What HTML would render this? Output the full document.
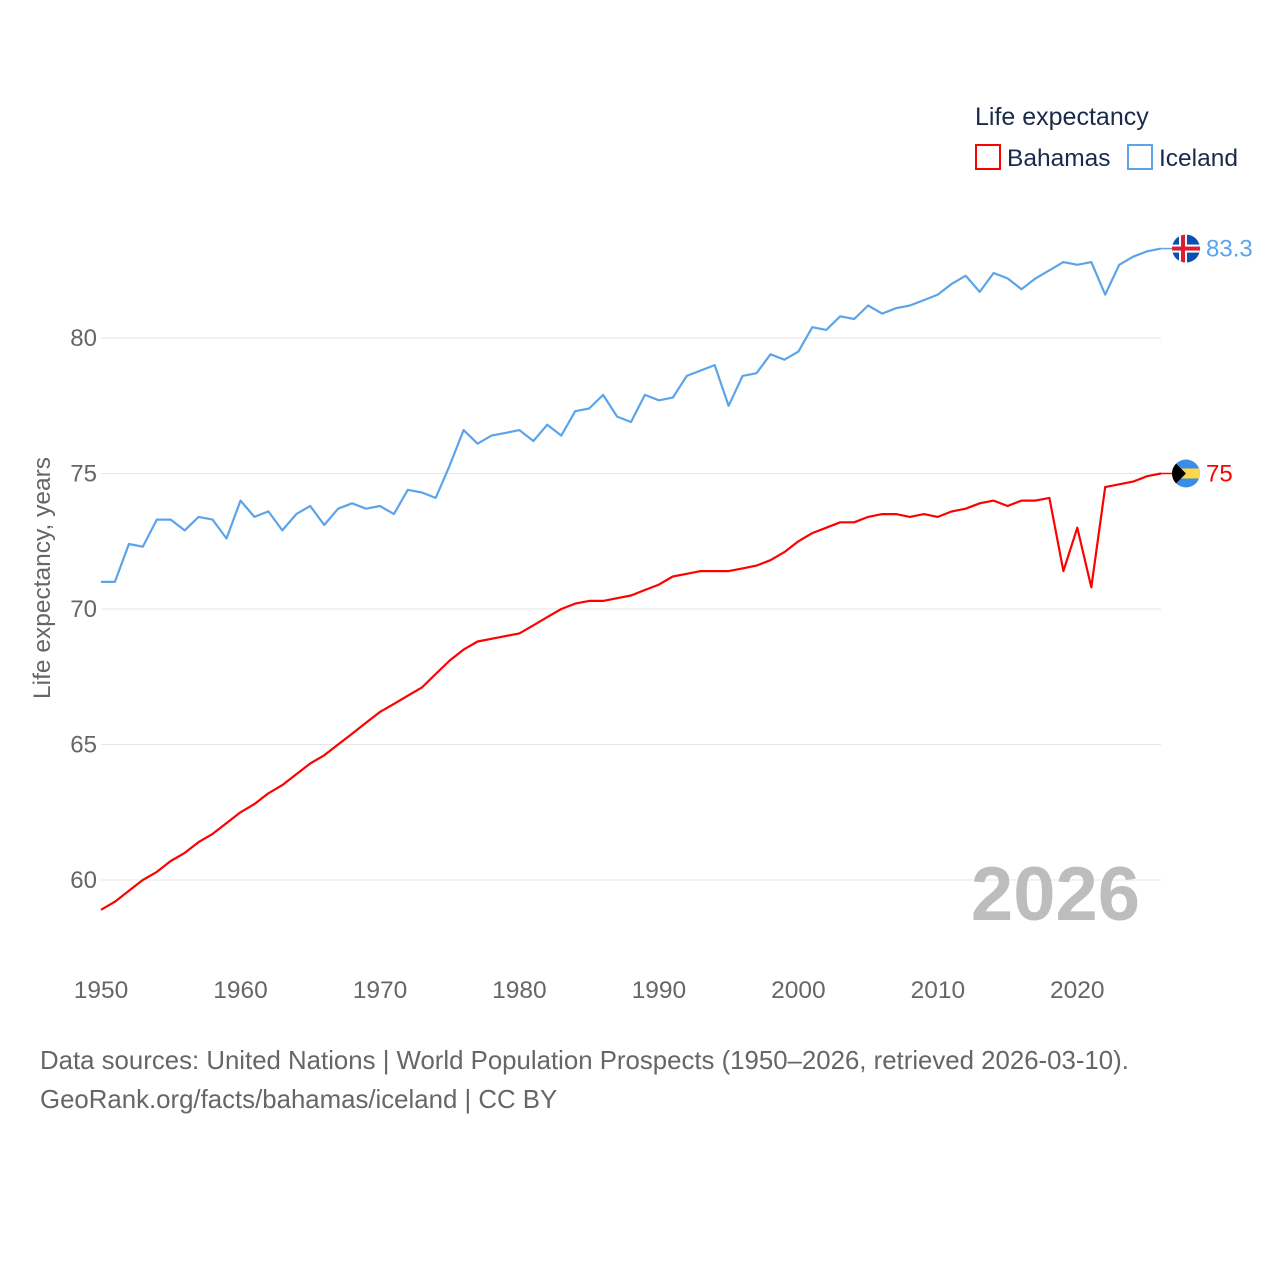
<!DOCTYPE html>
<html><head><meta charset="utf-8"><style>
html,body{margin:0;padding:0;background:#fff;}
svg{display:block;font-family:"Liberation Sans",sans-serif;}
</style></head><body>
<svg id="chart" width="1280" height="1280" viewBox="0 0 1280 1280">
<g id="grid"></g>
<g id="yticks"></g>
<g id="xticks"></g>
<text x="50" y="578" transform="rotate(-90 50 578)" text-anchor="middle" font-size="24.5" fill="#666">Life expectancy, years</text>
<text x="1140" y="920" text-anchor="end" font-size="76" font-weight="bold" fill="#bdbdbd">2026</text>
<g id="series"></g>
<g>
<text x="975" y="125" font-size="25" fill="#1a2a4a">Life expectancy</text>
<g><rect x="976" y="145" width="24" height="24" fill="none" stroke="#ff0000" stroke-width="2"/><text x="1007" y="166" font-size="24.5" fill="#1a2a4a">Bahamas</text></g>
<g><rect x="1128" y="145" width="24" height="24" fill="none" stroke="#5ba4ea" stroke-width="2"/><text x="1159" y="166" font-size="24.5" fill="#1a2a4a">Iceland</text></g>
</g>
<text x="40" y="1069" font-size="25.8" fill="#666">Data sources: United Nations | World Population Prospects (1950–2026, retrieved 2026-03-10).</text>
<text x="40" y="1108" font-size="25.8" fill="#666">GeoRank.org/facts/bahamas/iceland | CC BY</text>
</svg>
<script>
const years=[];for(let y=1950;y<=2026;y++)years.push(y);
const iceland=[71.0,71.0,72.4,72.3,73.3,73.3,72.9,73.4,73.3,72.6,74.0,73.4,73.6,72.9,73.5,73.8,73.1,73.7,73.9,73.7,73.8,73.5,74.4,74.3,74.1,75.3,76.6,76.1,76.4,76.5,76.6,76.2,76.8,76.4,77.3,77.4,77.9,77.1,76.9,77.9,77.7,77.8,78.6,78.8,79.0,77.5,78.6,78.7,79.4,79.2,79.5,80.4,80.3,80.8,80.7,81.2,80.9,81.1,81.2,81.4,81.6,82.0,82.3,81.7,82.4,82.2,81.8,82.2,82.5,82.8,82.7,82.8,81.6,82.7,83.0,83.2,83.3];
const bahamas=[58.9,59.2,59.6,60.0,60.3,60.7,61.0,61.4,61.7,62.1,62.5,62.8,63.2,63.5,63.9,64.3,64.6,65.0,65.4,65.8,66.2,66.5,66.8,67.1,67.6,68.1,68.5,68.8,68.9,69.0,69.1,69.4,69.7,70.0,70.2,70.3,70.3,70.4,70.5,70.7,70.9,71.2,71.3,71.4,71.4,71.4,71.5,71.6,71.8,72.1,72.5,72.8,73.0,73.2,73.2,73.4,73.5,73.5,73.4,73.5,73.4,73.6,73.7,73.9,74.0,73.8,74.0,74.0,74.1,71.4,73.0,70.8,74.5,74.6,74.7,74.9,75.0];
const yTicks=[60,65,70,75,80];
const xTicks=[1950,1960,1970,1980,1990,2000,2010,2020];
const NS="http://www.w3.org/2000/svg";
const X=y=>101+(y-1950)*(1161-101)/76;
const Y=v=>338+(80-v)*(880-338)/20;
function mk(t,a,p){const e=document.createElementNS(NS,t);for(const k in a)e.setAttribute(k,a[k]);p.appendChild(e);return e;}
const grid=document.getElementById('grid'),yt=document.getElementById('yticks'),xt=document.getElementById('xticks'),ser=document.getElementById('series');
yTicks.forEach(v=>{
 const l=mk('line',{x1:101,x2:1161,y1:Y(v),y2:Y(v),stroke:'#e6e6e6','stroke-width':1},grid);
 
 
 const t=mk('text',{x:97,y:Y(v)+8,'text-anchor':'end','font-size':24,fill:'#666'},yt);t.textContent=v;
 
 
});
xTicks.forEach(v=>{
 const t=mk('text',{x:X(v),y:998,'text-anchor':'middle','font-size':24.5,fill:'#666'},xt);t.textContent=v;
 
 
});
function line(data,color,name){
 const d=data.map((v,i)=>(i?'L':'M')+X(years[i]).toFixed(1)+','+Y(v).toFixed(1)).join('');
 const p=mk('path',{d:d,fill:'none',stroke:color,'stroke-width':2.2,'stroke-linejoin':'round'},ser);
 
 
 const lx=X(years[years.length-1]),ly=Y(data[data.length-1]);
 mk('line',{x1:lx,x2:lx+12,y1:ly,y2:ly,stroke:color,'stroke-width':1.5},ser);
 return {cx:lx+25,cy:ly};
}
const ic=line(iceland,'#5ba4ea','iceland');
const bh=line(bahamas,'#ff0000','bahamas');
let g=mk('g',{},ser);


let cp=mk('clipPath',{id:'c1'},g);mk('circle',{cx:ic.cx,cy:ic.cy,r:14},cp);
let f=mk('g',{'clip-path':'url(#c1)'},g);
mk('rect',{x:ic.cx-14,y:ic.cy-14,width:28,height:28,fill:'#0b4fb0'},f);
mk('rect',{x:ic.cx-14,y:ic.cy-4,width:28,height:8,fill:'#fff'},f);
mk('rect',{x:ic.cx-7,y:ic.cy-14,width:8,height:28,fill:'#fff'},f);
mk('rect',{x:ic.cx-14,y:ic.cy-2,width:28,height:4,fill:'#dc1e35'},f);
mk('rect',{x:ic.cx-5,y:ic.cy-14,width:4,height:28,fill:'#dc1e35'},f);
let t=mk('text',{x:ic.cx+20,y:ic.cy+8,'font-size':24,fill:'#5ba4ea'},ser);t.textContent='83.3';


g=mk('g',{},ser);


cp=mk('clipPath',{id:'c2'},g);mk('circle',{cx:bh.cx,cy:bh.cy,r:14},cp);
f=mk('g',{'clip-path':'url(#c2)'},g);
mk('rect',{x:bh.cx-14,y:bh.cy-14,width:28,height:28,fill:'#3a8de6'},f);
mk('rect',{x:bh.cx-14,y:bh.cy-5,width:28,height:10,fill:'#ffd84a'},f);
mk('polygon',{points:(bh.cx-14)+','+(bh.cy-14)+' '+(bh.cx)+','+bh.cy+' '+(bh.cx-14)+','+(bh.cy+14),fill:'#000'},f);
t=mk('text',{x:bh.cx+20,y:bh.cy+8,'font-size':24,fill:'#ff0000'},ser);t.textContent='75';


</script>
</body></html>
